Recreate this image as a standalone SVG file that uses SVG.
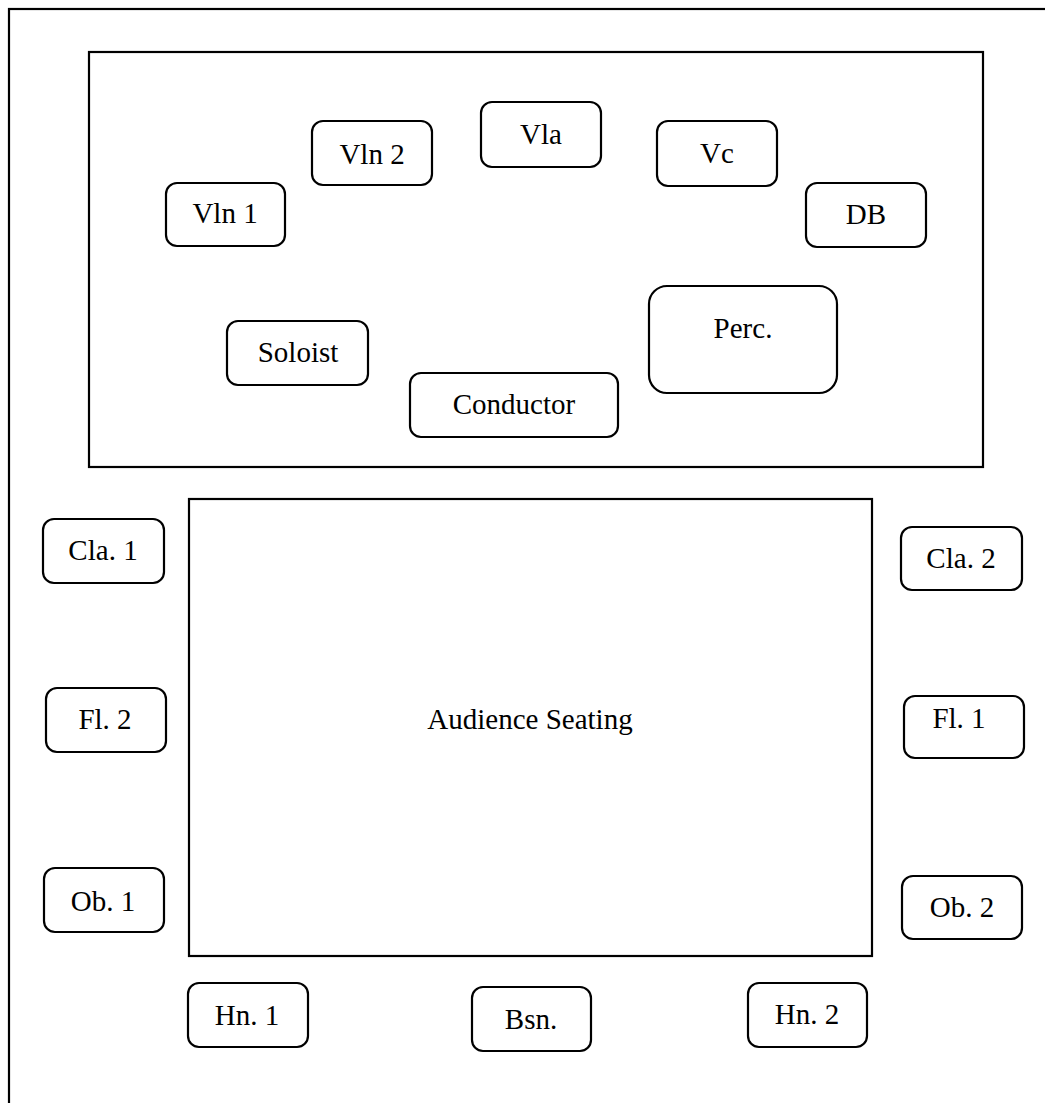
<svg xmlns="http://www.w3.org/2000/svg" width="1045" height="1103" viewBox="0 0 1045 1103">
<style>
.area{fill:none;stroke:#000;stroke-width:2.2}
.box{fill:#fff;stroke:#000;stroke-width:2.2}
text{font-family:"Liberation Serif","Times New Roman",serif;font-size:29px;fill:#000;text-anchor:middle}
</style>
<rect width="1045" height="1103" fill="#fff"/>
<g id="venue"><rect class="area" x="9" y="9" width="1045" height="1105"/></g>
<g id="stage"><rect class="area" x="89" y="52" width="894" height="415"/></g>
<g id="audience"><rect class="area" x="189" y="499" width="683" height="457"/><text x="530" y="729">Audience Seating</text></g>
<g id="vln1"><rect class="box" x="166" y="183" width="119" height="63" rx="11"/><text x="225" y="223">Vln 1</text></g>
<g id="vln2"><rect class="box" x="312" y="121" width="120" height="64" rx="11"/><text x="372" y="164">Vln 2</text></g>
<g id="vla"><rect class="box" x="481" y="102" width="120" height="65" rx="11"/><text x="541" y="144">Vla</text></g>
<g id="vc"><rect class="box" x="657" y="121" width="120" height="65" rx="11"/><text x="717" y="163">Vc</text></g>
<g id="db"><rect class="box" x="806" y="183" width="120" height="64" rx="11"/><text x="866" y="224">DB</text></g>
<g id="perc"><rect class="box" x="649" y="286" width="188" height="107" rx="18"/><text x="743" y="338">Perc.</text></g>
<g id="soloist"><rect class="box" x="227" y="321" width="141" height="64" rx="11"/><text x="298" y="362">Soloist</text></g>
<g id="conductor"><rect class="box" x="410" y="373" width="208" height="64" rx="11"/><text x="514" y="414">Conductor</text></g>
<g id="cla1"><rect class="box" x="43" y="519" width="121" height="64" rx="11"/><text x="103" y="560">Cla. 1</text></g>
<g id="fl2"><rect class="box" x="46" y="688" width="120" height="64" rx="11"/><text x="105" y="729">Fl. 2</text></g>
<g id="ob1"><rect class="box" x="44" y="868" width="120" height="64" rx="11"/><text x="103" y="911">Ob. 1</text></g>
<g id="cla2"><rect class="box" x="901" y="527" width="121" height="63" rx="11"/><text x="961" y="568">Cla. 2</text></g>
<g id="fl1"><rect class="box" x="904" y="696" width="120" height="62" rx="11"/><text x="959" y="728">Fl. 1</text></g>
<g id="ob2"><rect class="box" x="902" y="876" width="120" height="63" rx="11"/><text x="962" y="917">Ob. 2</text></g>
<g id="hn1"><rect class="box" x="188" y="983" width="120" height="64" rx="11"/><text x="247" y="1025">Hn. 1</text></g>
<g id="bsn"><rect class="box" x="472" y="987" width="119" height="64" rx="11"/><text x="531" y="1029">Bsn.</text></g>
<g id="hn2"><rect class="box" x="748" y="983" width="119" height="64" rx="11"/><text x="807" y="1024">Hn. 2</text></g>
<g id="connectors"></g>
</svg>
